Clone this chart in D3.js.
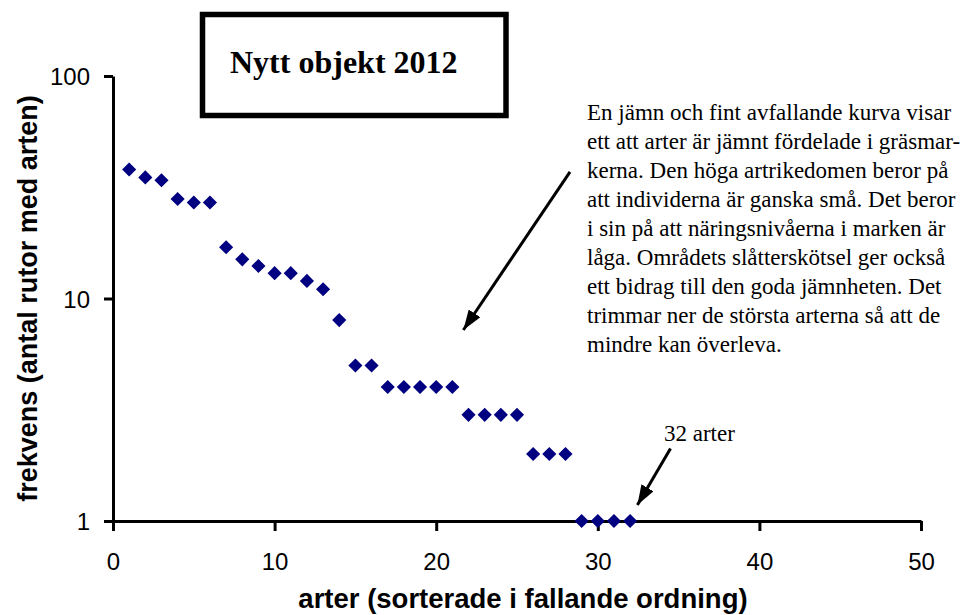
<!DOCTYPE html>
<html>
<head>
<meta charset="utf-8">
<script src="https://cdn.jsdelivr.net/npm/d3@7"></script>
<style>
  html, body { margin: 0; padding: 0; background: #fff; }
  svg { display: block; }
</style>
</head>
<body>
<svg id="chart" width="976" height="615"></svg>
<script>
// ---- data ----
const ranks = [1,2,3,4,5,6,7,8,9,10,11,12,13,14,15,16,17,18,19,20,21,22,23,24,25,26,27,28,29,30,31,32];
const frequencies = [38,35,34,28,27,27,17,15,14,13,13,12,11,8,5,5,4,4,4,4,4,3,3,3,3,2,2,2,1,1,1,1];
const xTicks = [0,10,20,30,40,50];
const yTicks = [1,10,100];
const chartTitle = "Nytt objekt 2012";
const xTitle = "arter (sorterade i fallande ordning)";
const yTitle = "frekvens (antal rutor med arten)";
const noteLines = [
  "En jämn och fint avfallande kurva visar",
  "ett att arter är jämnt fördelade i gräsmar-",
  "kerna. Den höga artrikedomen beror på",
  "att individerna är ganska små. Det beror",
  "i sin på att näringsnivåerna i marken är",
  "låga. Områdets slåtterskötsel ger också",
  "ett bidrag till den goda jämnheten. Det",
  "trimmar ner de största arterna så att de",
  "mindre kan överleva."
];
const countLabel = "32 arter";

(function () {
// ---- layout ----
const svg = d3.select("#chart");
const pL = 113, pR = 921, pT = 76, pB = 521;
const x = d3.scaleLinear().domain([0, 50]).range([pL, pR]);
const y = d3.scaleLog().domain([1, 100]).range([pB, pT]);
const sans = "'Liberation Sans', Arial, sans-serif";
const serif = "'Liberation Serif', 'Times New Roman', serif";

// arrow marker
svg.append("defs").append("marker")
  .attr("id", "arrow")
  .attr("markerUnits", "userSpaceOnUse")
  .attr("viewBox", "0 0 20 14")
  .attr("refX", 20).attr("refY", 7)
  .attr("markerWidth", 20).attr("markerHeight", 14)
  .attr("orient", "auto")
  .append("path").attr("d", "M0,0 L20,7 L0,14 Z").attr("fill", "#000");

// x axis
const xAxis = svg.append("g")
  .attr("transform", `translate(0,${pB})`)
  .call(d3.axisBottom(x).tickValues(xTicks).tickSize(10).tickSizeOuter(0).tickFormat(d3.format("d")));
xAxis.select(".domain").attr("stroke", "#000").attr("stroke-width", 3);
xAxis.selectAll(".tick line").attr("stroke", "#000").attr("stroke-width", 3);
xAxis.selectAll(".tick text").attr("font-family", sans).attr("font-size", 24).attr("fill", "#000")
  .attr("y", 49).attr("dy", null);

// y axis
const yAxis = svg.append("g")
  .attr("transform", `translate(${pL},0)`)
  .call(d3.axisLeft(y).tickValues(yTicks).tickSize(9).tickSizeOuter(0).tickFormat(d3.format("d")));
yAxis.select(".domain").attr("stroke", "#000").attr("stroke-width", 3);
yAxis.selectAll(".tick line").attr("stroke", "#000").attr("stroke-width", 3);
yAxis.selectAll(".tick text").attr("font-family", sans).attr("font-size", 24).attr("fill", "#000")
  .attr("x", -23).attr("dy", "0.36em");

// axis titles
svg.append("text")
  .attr("x", (pL + pR) / 2 + 6).attr("y", 608)
  .attr("text-anchor", "middle")
  .attr("font-family", sans).attr("font-weight", "bold").attr("font-size", 27.5)
  .text(xTitle);
svg.append("text")
  .attr("transform", `translate(37,${(pT + pB) / 2}) rotate(-90)`)
  .attr("text-anchor", "middle")
  .attr("font-family", sans).attr("font-weight", "bold").attr("font-size", 27)
  .text(yTitle);

// points
const pts = ranks.map((r, i) => ({ r, f: frequencies[i] }));
svg.append("g").selectAll("path")
  .data(pts).enter().append("path")
  .attr("d", d3.symbol(d3.symbolSquare, 100))
  .attr("transform", d => `translate(${x(d.r)},${y(d.f)}) rotate(45)`)
  .attr("fill", "#000080");

// title box
svg.append("rect")
  .attr("x", 202.5).attr("y", 14.5).attr("width", 303.5).attr("height", 101)
  .attr("fill", "#fff").attr("stroke", "#000").attr("stroke-width", 5.5);
svg.append("text")
  .attr("x", 230).attr("y", 73)
  .attr("font-family", serif).attr("font-weight", "bold").attr("font-size", 32)
  .text(chartTitle);

// explanatory note
const note = svg.append("text")
  .attr("font-family", serif).attr("font-size", 23).attr("fill", "#000");
noteLines.forEach((t, i) => {
  note.append("tspan").attr("x", 587).attr("y", 120 + i * 29).text(t);
});

// arrows (anchored in data coordinates)
svg.append("line")
  .attr("x1", x(28.28)).attr("y1", y(37.1))
  .attr("x2", x(21.68)).attr("y2", y(7.22))
  .attr("stroke", "#000").attr("stroke-width", 3)
  .attr("marker-end", "url(#arrow)");
svg.append("line")
  .attr("x1", x(34.5)).attr("y1", y(2.12))
  .attr("x2", x(32.45)).attr("y2", y(1.18))
  .attr("stroke", "#000").attr("stroke-width", 3)
  .attr("marker-end", "url(#arrow)");
svg.append("text")
  .attr("x", 664).attr("y", 441)
  .attr("font-family", serif).attr("font-size", 23)
  .text(countLabel);
})();
</script>
</body>
</html>
